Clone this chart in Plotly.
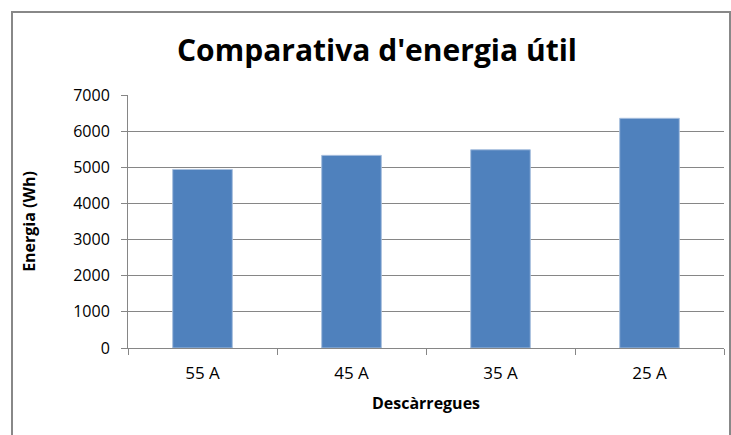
import plotly.graph_objects as go

categories = ["55 A", "45 A", "35 A", "25 A"]
energy_wh = [4940, 5330, 5485, 6355]
y_ticks = [0, 1000, 2000, 3000, 4000, 5000, 6000, 7000]

L, R, T, B = 128, 7, 95, 87
W, H = 731, 435
pw = W - L - R
ph = H - T - B

fig = go.Figure(go.Bar(
    x=categories, y=energy_wh,
    marker=dict(color="#4F81BD", line=dict(color="#A7BFDE", width=1)),
    width=0.4,
))

fig.update_layout(
    width=W, height=H,
    margin=dict(l=L, r=R, t=T, b=B),
    paper_bgcolor="white", plot_bgcolor="white",
    showlegend=False,
    font=dict(family="Open Sans", color="#000000"),
    title=dict(text="<b>Comparativa d'energia útil</b>", x=377 / W, xanchor="center",
               y=1 - 50 / H, yanchor="middle",
               font=dict(size=30, family="Open Sans", color="#000000")),
    shapes=[dict(type="rect", xref="paper", yref="paper",
                 x0=(12 - L) / pw, x1=(730 - L) / pw,
                 y0=-(445 - (T + ph)) / ph,
                 y1=(T + ph - 12) / ph,
                 line=dict(color="#888888", width=2), layer="below")],
)

fig.update_xaxes(
    showline=True, linecolor="#868686", linewidth=1,
    ticks="outside", tickson="boundaries", ticklen=6, tickcolor="#868686",
    ticklabelstandoff=10,
    tickfont=dict(size=17, family="Open Sans", color="#000000"),
    title=dict(text="<b>Descàrregues</b>", font=dict(size=16, family="Open Sans", color="#000000"), standoff=14),
    showgrid=False, range=[-0.5, 3.5],
)
fig.update_yaxes(
    range=[0, 7000], tickvals=y_ticks,
    showline=True, linecolor="#868686", linewidth=1,
    ticks="outside", ticklen=6, tickcolor="#868686",
    ticklabelstandoff=8,
    showgrid=True, gridcolor="#868686", gridwidth=1,
    zeroline=False,
    tickfont=dict(size=16, family="Open Sans", color="#000000"),
    title=dict(text="<b>Energia (Wh)</b>", font=dict(size=16, family="Open Sans", color="#000000"), standoff=33),
)

fig.write_html("out.html")
